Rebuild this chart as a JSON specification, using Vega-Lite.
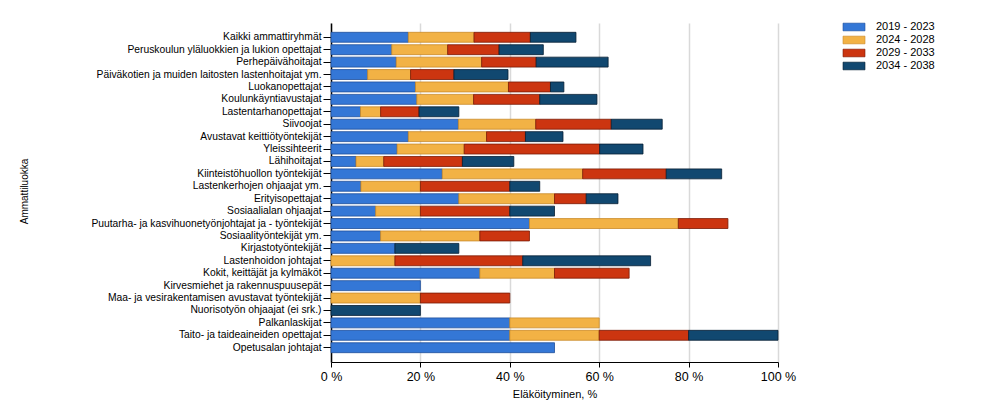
{
  "$schema": "https://vega.github.io/schema/vega-lite/v6.json",
  "width": 447,
  "height": 339,
  "autosize": {"type": "none"},
  "padding": {"left": 331, "top": 23, "right": 210, "bottom": 45},
  "background": "white",
  "config": {
    "font": "Liberation Sans",
    "view": {"stroke": null}
  },
  "data": {
    "values": [
      {"ammatti": "Kaikki ammattiryhmät", "jakso": "2019 - 2023", "osuus": 17.3},
      {"ammatti": "Kaikki ammattiryhmät", "jakso": "2024 - 2028", "osuus": 14.7},
      {"ammatti": "Kaikki ammattiryhmät", "jakso": "2029 - 2033", "osuus": 12.6},
      {"ammatti": "Kaikki ammattiryhmät", "jakso": "2034 - 2038", "osuus": 10.2},
      {"ammatti": "Peruskoulun yläluokkien ja lukion opettajat", "jakso": "2019 - 2023", "osuus": 13.6},
      {"ammatti": "Peruskoulun yläluokkien ja lukion opettajat", "jakso": "2024 - 2028", "osuus": 12.5},
      {"ammatti": "Peruskoulun yläluokkien ja lukion opettajat", "jakso": "2029 - 2033", "osuus": 11.5},
      {"ammatti": "Peruskoulun yläluokkien ja lukion opettajat", "jakso": "2034 - 2038", "osuus": 9.9},
      {"ammatti": "Perhepäivähoitajat", "jakso": "2019 - 2023", "osuus": 14.6},
      {"ammatti": "Perhepäivähoitajat", "jakso": "2024 - 2028", "osuus": 19.1},
      {"ammatti": "Perhepäivähoitajat", "jakso": "2029 - 2033", "osuus": 12.2},
      {"ammatti": "Perhepäivähoitajat", "jakso": "2034 - 2038", "osuus": 16.1},
      {"ammatti": "Päiväkotien ja muiden laitosten lastenhoitajat ym.", "jakso": "2019 - 2023", "osuus": 8.2},
      {"ammatti": "Päiväkotien ja muiden laitosten lastenhoitajat ym.", "jakso": "2024 - 2028", "osuus": 9.6},
      {"ammatti": "Päiväkotien ja muiden laitosten lastenhoitajat ym.", "jakso": "2029 - 2033", "osuus": 9.7},
      {"ammatti": "Päiväkotien ja muiden laitosten lastenhoitajat ym.", "jakso": "2034 - 2038", "osuus": 12.1},
      {"ammatti": "Luokanopettajat", "jakso": "2019 - 2023", "osuus": 18.9},
      {"ammatti": "Luokanopettajat", "jakso": "2024 - 2028", "osuus": 20.8},
      {"ammatti": "Luokanopettajat", "jakso": "2029 - 2033", "osuus": 9.4},
      {"ammatti": "Luokanopettajat", "jakso": "2034 - 2038", "osuus": 3.0},
      {"ammatti": "Koulunkäyntiavustajat", "jakso": "2019 - 2023", "osuus": 19.2},
      {"ammatti": "Koulunkäyntiavustajat", "jakso": "2024 - 2028", "osuus": 12.7},
      {"ammatti": "Koulunkäyntiavustajat", "jakso": "2029 - 2033", "osuus": 14.8},
      {"ammatti": "Koulunkäyntiavustajat", "jakso": "2034 - 2038", "osuus": 12.8},
      {"ammatti": "Lastentarhanopettajat", "jakso": "2019 - 2023", "osuus": 6.6},
      {"ammatti": "Lastentarhanopettajat", "jakso": "2024 - 2028", "osuus": 4.5},
      {"ammatti": "Lastentarhanopettajat", "jakso": "2029 - 2033", "osuus": 8.6},
      {"ammatti": "Lastentarhanopettajat", "jakso": "2034 - 2038", "osuus": 8.9},
      {"ammatti": "Siivoojat", "jakso": "2019 - 2023", "osuus": 28.5},
      {"ammatti": "Siivoojat", "jakso": "2024 - 2028", "osuus": 17.3},
      {"ammatti": "Siivoojat", "jakso": "2029 - 2033", "osuus": 16.9},
      {"ammatti": "Siivoojat", "jakso": "2034 - 2038", "osuus": 11.4},
      {"ammatti": "Avustavat keittiötyöntekijät", "jakso": "2019 - 2023", "osuus": 17.3},
      {"ammatti": "Avustavat keittiötyöntekijät", "jakso": "2024 - 2028", "osuus": 17.5},
      {"ammatti": "Avustavat keittiötyöntekijät", "jakso": "2029 - 2033", "osuus": 8.7},
      {"ammatti": "Avustavat keittiötyöntekijät", "jakso": "2034 - 2038", "osuus": 8.4},
      {"ammatti": "Yleissihteerit", "jakso": "2019 - 2023", "osuus": 14.8},
      {"ammatti": "Yleissihteerit", "jakso": "2024 - 2028", "osuus": 15.0},
      {"ammatti": "Yleissihteerit", "jakso": "2029 - 2033", "osuus": 30.3},
      {"ammatti": "Yleissihteerit", "jakso": "2034 - 2038", "osuus": 9.7},
      {"ammatti": "Lähihoitajat", "jakso": "2019 - 2023", "osuus": 5.6},
      {"ammatti": "Lähihoitajat", "jakso": "2024 - 2028", "osuus": 6.2},
      {"ammatti": "Lähihoitajat", "jakso": "2029 - 2033", "osuus": 17.6},
      {"ammatti": "Lähihoitajat", "jakso": "2034 - 2038", "osuus": 11.5},
      {"ammatti": "Kiinteistöhuollon työntekijät", "jakso": "2019 - 2023", "osuus": 24.9},
      {"ammatti": "Kiinteistöhuollon työntekijät", "jakso": "2024 - 2028", "osuus": 31.4},
      {"ammatti": "Kiinteistöhuollon työntekijät", "jakso": "2029 - 2033", "osuus": 18.7},
      {"ammatti": "Kiinteistöhuollon työntekijät", "jakso": "2034 - 2038", "osuus": 12.4},
      {"ammatti": "Lastenkerhojen ohjaajat ym.", "jakso": "2019 - 2023", "osuus": 6.7},
      {"ammatti": "Lastenkerhojen ohjaajat ym.", "jakso": "2024 - 2028", "osuus": 13.3},
      {"ammatti": "Lastenkerhojen ohjaajat ym.", "jakso": "2029 - 2033", "osuus": 20.0},
      {"ammatti": "Lastenkerhojen ohjaajat ym.", "jakso": "2034 - 2038", "osuus": 6.7},
      {"ammatti": "Erityisopettajat", "jakso": "2019 - 2023", "osuus": 28.6},
      {"ammatti": "Erityisopettajat", "jakso": "2024 - 2028", "osuus": 21.4},
      {"ammatti": "Erityisopettajat", "jakso": "2029 - 2033", "osuus": 7.1},
      {"ammatti": "Erityisopettajat", "jakso": "2034 - 2038", "osuus": 7.1},
      {"ammatti": "Sosiaalialan ohjaajat", "jakso": "2019 - 2023", "osuus": 10.0},
      {"ammatti": "Sosiaalialan ohjaajat", "jakso": "2024 - 2028", "osuus": 10.0},
      {"ammatti": "Sosiaalialan ohjaajat", "jakso": "2029 - 2033", "osuus": 20.0},
      {"ammatti": "Sosiaalialan ohjaajat", "jakso": "2034 - 2038", "osuus": 10.0},
      {"ammatti": "Puutarha- ja kasvihuonetyönjohtajat ja - työntekijät", "jakso": "2019 - 2023", "osuus": 44.4},
      {"ammatti": "Puutarha- ja kasvihuonetyönjohtajat ja - työntekijät", "jakso": "2024 - 2028", "osuus": 33.3},
      {"ammatti": "Puutarha- ja kasvihuonetyönjohtajat ja - työntekijät", "jakso": "2029 - 2033", "osuus": 11.1},
      {"ammatti": "Sosiaalityöntekijät ym.", "jakso": "2019 - 2023", "osuus": 11.1},
      {"ammatti": "Sosiaalityöntekijät ym.", "jakso": "2024 - 2028", "osuus": 22.2},
      {"ammatti": "Sosiaalityöntekijät ym.", "jakso": "2029 - 2033", "osuus": 11.1},
      {"ammatti": "Kirjastotyöntekijät", "jakso": "2019 - 2023", "osuus": 14.3},
      {"ammatti": "Kirjastotyöntekijät", "jakso": "2034 - 2038", "osuus": 14.3},
      {"ammatti": "Lastenhoidon johtajat", "jakso": "2024 - 2028", "osuus": 14.3},
      {"ammatti": "Lastenhoidon johtajat", "jakso": "2029 - 2033", "osuus": 28.6},
      {"ammatti": "Lastenhoidon johtajat", "jakso": "2034 - 2038", "osuus": 28.6},
      {"ammatti": "Kokit, keittäjät ja kylmäköt", "jakso": "2019 - 2023", "osuus": 33.3},
      {"ammatti": "Kokit, keittäjät ja kylmäköt", "jakso": "2024 - 2028", "osuus": 16.7},
      {"ammatti": "Kokit, keittäjät ja kylmäköt", "jakso": "2029 - 2033", "osuus": 16.7},
      {"ammatti": "Kirvesmiehet ja rakennuspuusepät", "jakso": "2019 - 2023", "osuus": 20.0},
      {"ammatti": "Maa- ja vesirakentamisen avustavat työntekijät", "jakso": "2024 - 2028", "osuus": 20.0},
      {"ammatti": "Maa- ja vesirakentamisen avustavat työntekijät", "jakso": "2029 - 2033", "osuus": 20.0},
      {"ammatti": "Nuorisotyön ohjaajat (ei srk.)", "jakso": "2034 - 2038", "osuus": 20.0},
      {"ammatti": "Palkanlaskijat", "jakso": "2019 - 2023", "osuus": 40.0},
      {"ammatti": "Palkanlaskijat", "jakso": "2024 - 2028", "osuus": 20.0},
      {"ammatti": "Taito- ja taideaineiden opettajat", "jakso": "2019 - 2023", "osuus": 40.0},
      {"ammatti": "Taito- ja taideaineiden opettajat", "jakso": "2024 - 2028", "osuus": 20.0},
      {"ammatti": "Taito- ja taideaineiden opettajat", "jakso": "2029 - 2033", "osuus": 20.0},
      {"ammatti": "Taito- ja taideaineiden opettajat", "jakso": "2034 - 2038", "osuus": 20.0},
      {"ammatti": "Opetusalan johtajat", "jakso": "2019 - 2023", "osuus": 50.0}
    ]
  },
  "mark": {"type": "bar", "strokeWidth": 0.8},
  "encoding": {
    "y": {
      "field": "ammatti",
      "type": "nominal",
      "sort": [
        "Kaikki ammattiryhmät",
        "Peruskoulun yläluokkien ja lukion opettajat",
        "Perhepäivähoitajat",
        "Päiväkotien ja muiden laitosten lastenhoitajat ym.",
        "Luokanopettajat",
        "Koulunkäyntiavustajat",
        "Lastentarhanopettajat",
        "Siivoojat",
        "Avustavat keittiötyöntekijät",
        "Yleissihteerit",
        "Lähihoitajat",
        "Kiinteistöhuollon työntekijät",
        "Lastenkerhojen ohjaajat ym.",
        "Erityisopettajat",
        "Sosiaalialan ohjaajat",
        "Puutarha- ja kasvihuonetyönjohtajat ja - työntekijät",
        "Sosiaalityöntekijät ym.",
        "Kirjastotyöntekijät",
        "Lastenhoidon johtajat",
        "Kokit, keittäjät ja kylmäköt",
        "Kirvesmiehet ja rakennuspuusepät",
        "Maa- ja vesirakentamisen avustavat työntekijät",
        "Nuorisotyön ohjaajat (ei srk.)",
        "Palkanlaskijat",
        "Taito- ja taideaineiden opettajat",
        "Opetusalan johtajat"
      ],
      "scale": {"paddingInner": 0.2, "paddingOuter": 0.75},
      "axis": {
        "title": "Ammattiluokka",
        "titleFontSize": 10,
        "titleFontWeight": "normal",
        "titleColor": "black",
        "titleX": -307,
        "titleY": 168,
        "titleAngle": -90,
        "titleBaseline": "middle",
        "titleAlign": "center",
        "labelFontSize": 10.3,
        "labelColor": "black",
        "labelLimit": 400,
        "labelPadding": 2,
        "tickSize": 8,
        "tickColor": "black",
        "tickWidth": 1,
        "domainColor": "black",
        "domainWidth": 1.5,
        "grid": false
      }
    },
    "x": {
      "field": "osuus",
      "type": "quantitative",
      "stack": "zero",
      "scale": {"domain": [0, 100], "nice": false},
      "axis": {
        "title": "Eläköityminen, %",
        "titleFontSize": 11,
        "titleFontWeight": "normal",
        "titleColor": "black",
        "titlePadding": 6,
        "values": [0, 20, 40, 60, 80, 100],
        "labelExpr": "datum.value + ' %'",
        "labelFontSize": 12.5,
        "labelColor": "black",
        "labelPadding": 3,
        "labelFlush": false,
        "tickSize": 5,
        "tickColor": "black",
        "domainColor": "black",
        "domainWidth": 1.2,
        "grid": true,
        "gridColor": "#d9d9d9",
        "gridWidth": 1.5
      }
    },
    "fill": {
      "field": "jakso",
      "type": "nominal",
      "scale": {
        "domain": ["2019 - 2023", "2024 - 2028", "2029 - 2033", "2034 - 2038"],
        "range": ["#3477d6", "#f2b245", "#cc3510", "#114870"]
      },
      "legend": {
        "title": null,
        "orient": "none",
        "legendX": 517,
        "legendY": -2,
        "labelFontSize": 11,
        "labelColor": "black",
        "labelOffset": 16,
        "symbolType": "M-2,-0.7L2,-0.7L2,0.7L-2,0.7Z",
        "symbolSize": 121,
        "symbolStrokeColor": "#1a2a40",
        "symbolStrokeWidth": 0.6,
        "rowPadding": 1
      }
    },
    "stroke": {
      "field": "jakso",
      "type": "nominal",
      "scale": {
        "domain": ["2019 - 2023", "2024 - 2028", "2029 - 2033", "2034 - 2038"],
        "range": ["#1f4f9a", "#c98a2a", "#7a1a05", "#061e33"]
      },
      "legend": null
    }
  }
}
